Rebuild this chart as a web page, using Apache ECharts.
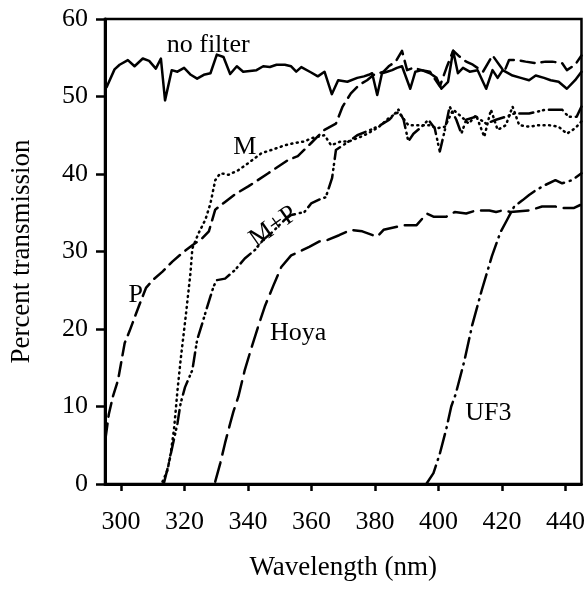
<!DOCTYPE html>
<html>
<head>
<meta charset="utf-8">
<script src="https://cdn.jsdelivr.net/npm/echarts@6/dist/echarts.min.js"></script>
<style>
html,body{margin:0;padding:0;background:#fff;}
#chart{width:588px;height:590px;}
</style>
</head>
<body>
<div id="chart"></div>
<script>
// ---- data (wavelength nm, percent transmission) ----
var noFilter = [[295.5,51.2],[298,53.5],[299.6,54.1],[302.2,54.7],[304.3,53.9],[306.9,54.9],[308.9,54.6],[311,53.6],[312.6,54.9],[313.9,49.5],[316,53.4],[317.8,53.2],[319.9,53.7],[322,52.8],[324,52.3],[326.1,52.8],[328.2,53],[330.2,55.4],[332.3,55.1],[334.4,52.9],[336.5,53.9],[338.5,53.2],[340.6,53.3],[342.7,53.4],[344.8,53.9],[346.9,53.8],[349,54.1],[351.6,54.1],[353.6,53.9],[355.2,53.2],[356.8,53.8],[359.9,53.1],[362,52.6],[364.1,53.2],[366.4,50.3],[368.4,52.1],[371.3,51.9],[374.4,52.4],[376.5,52.6],[378,52.8],[379.1,53],[380.7,50.2],[382.2,53],[383.8,53.2],[385.4,53.4],[386.9,53.7],[388.5,53.9],[391.1,51],[392.7,53.2],[394.7,53.4],[397.3,53],[399.4,52.4],[400.9,51],[403,51.9],[404.6,55.9],[406.1,53],[407.7,53.7],[409.8,53.2],[412.3,53.4],[415,51],[417,53.4],[418.6,52.4],[420.2,53.4],[423.3,52.7],[425.9,52.4],[428.5,52.1],[430.6,52.7],[433.2,52.4],[435.3,52.1],[437.8,51.9],[440.4,51],[443,52.1],[445,53.2]];
var filterP = [[295.2,6],[296.2,9],[297.5,11.3],[299.1,13.4],[301.2,18.2],[302.7,19.7],[305.8,23.1],[307.9,25.3],[310,26.3],[313.1,27.4],[316.2,28.7],[319.3,29.8],[322.5,30.8],[325.6,31.7],[327.7,32.6],[329.7,35.4],[332.8,36.4],[336,37.4],[340.1,38.4],[346.4,40.1],[352.6,41.8],[355.7,42.3],[359.9,44],[364.1,45.7],[367.7,46.5],[369.8,48.7],[372.4,50.4],[375,51.5],[377.5,52.1],[379.6,52.8],[382.7,53.2],[384.3,53.9],[386.5,54.5],[388.5,55.9],[390.1,53.4],[392.1,53.7],[394.7,53.4],[397.3,53.2],[400.4,51.3],[402.5,53.7],[404.6,55.9],[406.2,55.3],[408.7,54.5],[410.8,54.1],[414,53.2],[417,55.3],[419.1,54.1],[420.7,53.2],[422.2,54.7],[424.8,54.7],[427.4,54.5],[430.6,54.3],[433.7,54.5],[435.8,54.5],[438.9,54.3],[440.4,53.4],[443,54.1],[445,55.3]];
var filterM = [[313.1,0.3],[314.7,1.8],[315.7,4],[316.7,7],[317.2,9.2],[317.8,12],[318.8,16],[320.4,21.6],[321.9,27.2],[322.5,30.4],[324.5,32.4],[326.6,34.1],[328.2,36.2],[329.7,39.2],[331.3,40.1],[333.9,39.9],[337,40.5],[340.1,41.4],[344.3,42.7],[347.4,43.1],[351.6,43.7],[354.7,44],[357.8,44.2],[359.9,44.6],[364.1,45],[366.2,43.7],[369.2,44.2],[371.8,44.2],[375.5,44.8],[377.6,45.2],[381,46],[384.3,47.2],[387.4,48],[390.5,46.3],[393.7,46.3],[397.3,46.3],[399.4,45.9],[402,46.1],[404.6,48.3],[407.2,47.4],[409.5,46.5],[411.8,47.6],[414.4,44.8],[416.5,48.3],[418.6,45.7],[421.2,46.3],[423.3,48.7],[425.4,46.3],[428.5,46.1],[431.6,46.3],[434.7,46.3],[437.8,46.1],[440.4,45.2],[443,45.9],[445,46.8]];
var filterMP = [[313.6,0.2],[315,2.5],[316.2,4.8],[317.8,7.8],[318.8,10.4],[320.2,12.5],[322.5,14.7],[324,18.6],[325.6,20.7],[327.2,22.9],[328.2,24.2],[329.2,25.5],[330.2,26.3],[332.8,26.5],[335.9,27.6],[339,29.1],[342.2,30.2],[344.8,31.5],[347.4,32.4],[351.6,34.1],[353.6,34.7],[357.8,35.1],[359.9,36.2],[363,36.8],[364.5,37],[366.5,39.5],[367.7,43.1],[371,44],[374.4,45],[378.6,45.7],[381.7,46.3],[384.5,47],[387.4,48.3],[389,47],[390.5,44.2],[392.1,45.2],[394.7,46.1],[396.8,47],[398.8,45.9],[400.4,42.9],[402,45.7],[403.5,48.7],[405.6,47],[407.2,45.2],[408.7,47],[411.8,47.4],[415,46.5],[418.1,47],[421.2,47.4],[423.8,47.8],[428.5,47.8],[433.7,48.3],[438.9,48.3],[440.9,47.4],[443.5,47.4],[445,48.7]];
var filterHoya = [[329.7,0.3],[331.3,2.7],[332.8,5.3],[334.4,7.8],[335.4,9.3],[337,11.3],[339,14.7],[341.2,17.7],[343.2,20.3],[345.3,22.9],[347.9,25.5],[350.5,28],[353.6,29.5],[356.2,30],[359.3,30.6],[362.5,31.3],[365.1,31.5],[368.7,32.1],[372.4,32.8],[376,32.6],[380.7,31.9],[382.7,32.8],[386.9,33.2],[389,33.4],[393.1,33.4],[396.3,34.9],[398.4,34.5],[402.5,34.5],[405.1,35.1],[408.7,34.9],[411.8,35.3],[416,35.3],[418.1,35.1],[420.2,35.3],[422.7,35.1],[428.5,35.3],[432.6,35.8],[436.8,35.8],[438.9,35.6],[442.5,35.6],[444.6,36]];
var filterUF3 = [[396.3,0.1],[398.4,1.4],[400.4,3.9],[402.5,7.2],[404,10],[405.4,11.6],[408.2,16],[410.6,20.5],[413.6,25],[416.8,29.4],[419.5,32.5],[421.6,34.1],[423.8,35.8],[426.4,36.6],[428.5,37.3],[430.6,37.9],[433.7,38.6],[436.8,39.2],[438.9,38.8],[442,39.2],[445,40.1]];
var curveLabels = [
  {name:'no filter', value:[327.5,56.6], rotate:0},
  {name:'M', value:[339,43.4], rotate:0},
  {name:'M+P', value:[348,33.2], rotate:35},
  {name:'P', value:[304.7,24.4], rotate:0},
  {name:'Hoya', value:[355.8,19.5], rotate:0},
  {name:'UF3', value:[415.7,9.2], rotate:0}
];
var xTicks = [300,320,340,360,380,400,420,440];
var yTicks = [0,10,20,30,40,50,60];

var FONT = '"Liberation Serif","Times New Roman",serif';
var chart = echarts.init(document.getElementById('chart'), null, {renderer:'canvas'});

function lineSeries(name, data, dash, width){
  return {
    name:name, type:'line', data:data, showSymbol:false, symbol:'none',
    lineStyle:{color:'#000', width:width||2.5, type:dash, cap:'round', join:'round', opacity:1},
    animation:false, z:3
  };
}

var option = {
  backgroundColor:'#fff',
  animation:false,
  grid:{left:102, right:5, top:19, bottom:106, show:true, borderColor:'#000', borderWidth:2.5, backgroundColor:'transparent'},
  xAxis:{
    type:'value', min:295, max:445, interval:20,
    name:'Wavelength (nm)', nameLocation:'middle', nameGap:70,
    nameTextStyle:{fontFamily:FONT, fontSize:27, color:'#000'},
    axisLine:{show:true, onZero:false, lineStyle:{color:'#000', width:3}},
    axisTick:{show:true, inside:false, length:7, lineStyle:{color:'#000', width:2.5},
      customValues: xTicks},
    axisLabel:{fontFamily:FONT, fontSize:26, color:'#000', margin:25, customValues: xTicks},
    splitLine:{show:false}
  },
  yAxis:{
    type:'value', min:0, max:60, interval:10,
    name:'Percent transmission', nameLocation:'middle', nameGap:70,
    nameTextStyle:{fontFamily:FONT, fontSize:27, color:'#000'},
    axisLine:{show:true, lineStyle:{color:'#000', width:3}},
    axisTick:{show:true, inside:false, length:9, lineStyle:{color:'#000', width:2.5}},
    axisLabel:{fontFamily:FONT, fontSize:26, color:'#000', margin:17, formatter:function(v){return yTicks.indexOf(v)>=0?String(v):'';}},
    splitLine:{show:false}
  },
  series:[
    lineSeries('no filter', noFilter, 'solid', 2.5),
    lineSeries('P', filterP, [14,7], 2.5),
    lineSeries('M', filterM, [1,4.5], 2.5),
    lineSeries('M+P', filterMP, [14,5,1,4,1,5], 2.5),
    lineSeries('Hoya', filterHoya, [20,8], 2.5),
    lineSeries('UF3', filterUF3, [20,6,1,6], 2.5),
    {
      type:'scatter', symbolSize:0, itemStyle:{opacity:1},
      data:curveLabels.map(function(l){
        return {name:l.name, value:l.value, label:{rotate:l.rotate}};
      }),
      label:{show:true, position:'inside', formatter:'{b}', fontFamily:FONT, fontSize:26, color:'#000', opacity:1, textBorderWidth:0},
      silent:true, z:5
    }
  ]
};
chart.setOption(option);
</script>
</body>
</html>
